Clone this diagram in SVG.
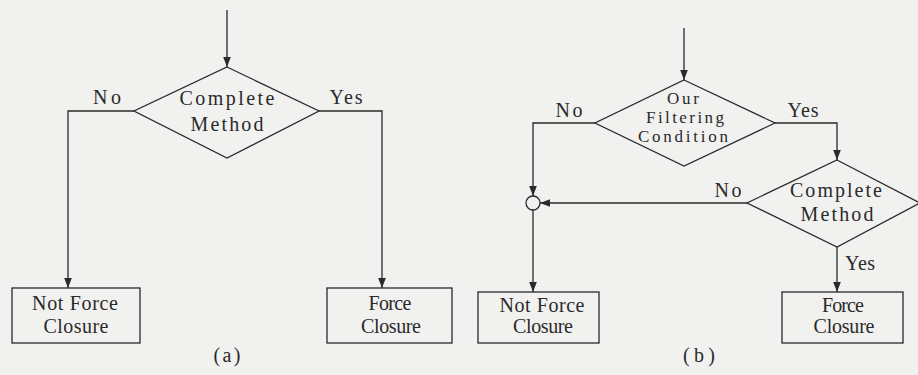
<svg xmlns="http://www.w3.org/2000/svg" width="918" height="375" viewBox="0 0 918 375">
  <style>
    .bg { fill: #f1f1ef; }
    .shape { fill: none; stroke: #2a2a2a; stroke-width: 1.3; }
    .wire { fill: none; stroke: #2a2a2a; stroke-width: 1.3; marker-end: url(#head); }
    .lbl { font-family: "Liberation Serif", "Times New Roman", serif; font-size: 20px; fill: #2a2a2a; text-anchor: middle; }
    .tight { font-size: 17px; }
  </style>
  <defs>
    <marker id="head" viewBox="0 0 10 10" refX="10" refY="5" markerWidth="10" markerHeight="10" markerUnits="userSpaceOnUse" orient="auto">
      <path d="M0,1.2 L10,5 L0,8.8 Z" fill="#2a2a2a"/>
    </marker>
  </defs>
  <rect class="bg" x="0" y="0" width="918" height="375"/>

  <!-- connectors and their branch labels -->
  <g id="connectors">
    <!-- panel (a) -->
    <path class="wire" d="M227,10 V67"/>
    <path class="wire" d="M134,111 H68 V288"/>
    <path class="wire" d="M319,111 H382 V288"/>
    <!-- panel (b) -->
    <path class="wire" d="M684,28 V80"/>
    <path class="wire" d="M595,123 H533 V196"/>
    <path class="wire" d="M775,123 H837 V160"/>
    <path class="wire" d="M747,203 H540"/>
    <path class="wire" d="M533,210 V292"/>
    <path class="wire" d="M837,247 V292"/>
    <text class="lbl" x="107" y="104" textLength="28">No</text>
    <text class="lbl" x="346" y="104" textLength="33">Yes</text>
    <text class="lbl" x="569" y="117" textLength="27">No</text>
    <text class="lbl" x="803" y="117" textLength="31">Yes</text>
    <text class="lbl" x="728" y="197" textLength="27">No</text>
    <text class="lbl" x="860" y="270" textLength="30">Yes</text>
  </g>

  <g id="nodes">
    <!-- panel (a) -->
    <g id="a-complete">
      <polygon class="shape" points="227,67 319,111 227,158 134,111"/>
      <text class="lbl" x="227" y="105" textLength="95">Complete</text>
      <text class="lbl" x="227" y="131" textLength="73">Method</text>
    </g>
    <g id="a-not-force-closure">
      <rect class="shape" x="12" y="288" width="128" height="55"/>
      <text class="lbl" x="75" y="310" textLength="86">Not Force</text>
      <text class="lbl" x="76" y="333" textLength="65">Closure</text>
    </g>
    <g id="a-force-closure">
      <rect class="shape" x="327" y="288" width="125" height="55"/>
      <text class="lbl" x="390" y="310" textLength="43">Force</text>
      <text class="lbl" x="391" y="333" textLength="60">Closure</text>
    </g>
    <text class="lbl" x="227" y="362" textLength="27">(a)</text>

    <!-- panel (b) -->
    <g id="b-filter">
      <polygon class="shape" points="684,80 775,123 684,166 595,123"/>
      <text class="lbl tight" x="683" y="104" textLength="32">Our</text>
      <text class="lbl tight" x="685" y="123" textLength="78">Filtering</text>
      <text class="lbl tight" x="683" y="142" textLength="90">Condition</text>
    </g>
    <g id="b-complete">
      <polygon class="shape" points="837,160 920,203 837,247 747,203"/>
      <text class="lbl" x="836" y="197" textLength="92">Complete</text>
      <text class="lbl" x="837" y="221" textLength="73">Method</text>
    </g>
    <g id="b-merge">
      <circle class="shape" cx="533" cy="203" r="7"/>
    </g>
    <g id="b-not-force-closure">
      <rect class="shape" x="478" y="292" width="121" height="51"/>
      <text class="lbl" x="542" y="312" textLength="85">Not Force</text>
      <text class="lbl" x="543" y="333" textLength="60">Closure</text>
    </g>
    <g id="b-force-closure">
      <rect class="shape" x="782" y="292" width="121" height="51"/>
      <text class="lbl" x="843" y="312" textLength="42">Force</text>
      <text class="lbl" x="844" y="333" textLength="61">Closure</text>
    </g>
    <text class="lbl" x="699" y="362" textLength="32">(b)</text>
  </g>
</svg>
